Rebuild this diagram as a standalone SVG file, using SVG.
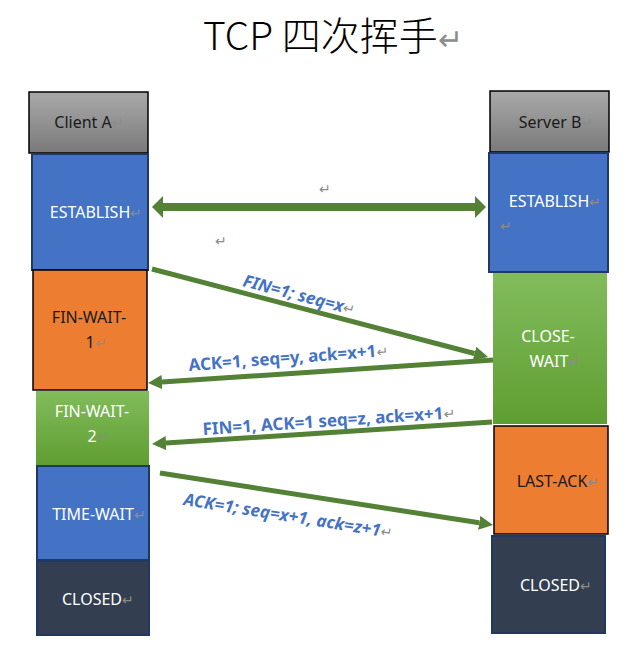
<svg xmlns="http://www.w3.org/2000/svg" width="643" height="664" viewBox="0 0 643 664">
<style>
text{font-family:"Noto Sans","Noto Sans CJK SC",sans-serif}
.t{font-size:16px;text-anchor:middle}
.w{fill:#ffffff}
.k{fill:#1a1a1a}
.pm{fill:#8c8c8c;font-weight:normal;font-style:normal;font-size:14px}
.lbl{font-size:17px;font-weight:bold;fill:#4472c4}
.it{font-style:italic}
.blue{fill:#4472c4;stroke:#1f3864;stroke-width:2}
.orange{fill:#ed7d31;stroke:#000;stroke-width:1.5}
.dark{fill:#333f50;stroke:#1f3864;stroke-width:2}
.gray{fill:url(#gg);stroke:#000;stroke-width:1.5}
.green{fill:url(#gr)}
.arr{stroke:#538135;stroke-width:5;fill:none}
</style>
<defs>
<linearGradient id="gg" x1="0" y1="0" x2="0" y2="1"><stop offset="0" stop-color="#a9a9a9"/><stop offset="1" stop-color="#7a7a7a"/></linearGradient>
<linearGradient id="gr" x1="0" y1="0" x2="0" y2="1"><stop offset="0" stop-color="#82bc5c"/><stop offset="1" stop-color="#5f9e31"/></linearGradient>
<marker id="ah" markerUnits="userSpaceOnUse" markerWidth="14" markerHeight="14" refX="0" refY="7" orient="auto-start-reverse" viewBox="0 0 14 14"><path d="M0,0 L14,7 L0,14 z" fill="#538135"/></marker>
<marker id="ahb" markerUnits="userSpaceOnUse" markerWidth="11" markerHeight="22" refX="0" refY="11" orient="auto-start-reverse" viewBox="0 0 11 22"><path d="M0,0 L11,11 L0,22 z" fill="#538135"/></marker>
</defs>

<text x="203" y="50" font-size="39" style="font-family:'Noto Sans CJK SC',sans-serif;font-weight:300" fill="#000">TCP 四次挥手<tspan fill="#8c8c8c" font-size="30">↵</tspan></text>

<g id="client-a"><rect class="gray" x="29" y="92" width="119" height="61"/><text class="t k" x="89" y="128">Client A<tspan class="pm">↵</tspan></text></g>
<g id="establish-a"><rect class="blue" x="32" y="154" width="116" height="116"/><text class="t w" x="96" y="218">ESTABLISH<tspan class="pm">↵</tspan></text></g>
<g id="fin-wait-1"><rect class="orange" x="33" y="270" width="114" height="120"/><text class="t k" x="89" y="323">FIN-WAIT-</text><text class="t k" x="96" y="348">1<tspan class="pm">↵</tspan></text></g>
<g id="fin-wait-2"><rect class="green" x="36" y="391" width="113" height="74"/><text class="t w" x="92" y="417">FIN-WAIT-</text><text class="t w" x="98" y="442">2<tspan class="pm">↵</tspan></text></g>
<g id="time-wait"><rect class="blue" x="37" y="466" width="112" height="94"/><text class="t w" x="99" y="520">TIME-WAIT<tspan class="pm">↵</tspan></text></g>
<g id="closed-a"><rect class="dark" x="37" y="561" width="112" height="74"/><text class="t w" x="98" y="605">CLOSED<tspan class="pm">↵</tspan></text></g>

<g id="server-b"><rect class="gray" x="490" y="91" width="119" height="61"/><text class="t k" x="556" y="128">Server B<tspan class="pm">↵</tspan></text></g>
<g id="establish-b"><rect class="blue" x="489" y="153" width="119" height="119"/><text class="t w" x="555" y="207">ESTABLISH<tspan class="pm">↵</tspan></text><text class="pm" x="500" y="231">↵</text></g>
<g id="close-wait"><rect class="green" x="493" y="273" width="114" height="151"/><text class="t w" x="548" y="342">CLOSE-</text><text class="t w" x="555" y="367">WAIT<tspan class="pm">↵</tspan></text></g>
<g id="last-ack"><rect class="orange" x="494" y="426" width="114" height="108"/><text class="t k" x="558" y="487">LAST-ACK<tspan class="pm">↵</tspan></text></g>
<g id="closed-b"><rect class="dark" x="492" y="536" width="113" height="97"/><text class="t w" x="556" y="591">CLOSED<tspan class="pm">↵</tspan></text></g>

<g id="connectors">
<line x1="163" y1="207" x2="475" y2="207" stroke="#538135" stroke-width="8" marker-start="url(#ahb)" marker-end="url(#ahb)"/>
<line class="arr" x1="152" y1="269" x2="474.5" y2="353.5" marker-end="url(#ah)"/>
<line class="arr" x1="493" y1="360" x2="162" y2="382.1" marker-end="url(#ah)"/>
<line class="arr" x1="492" y1="422" x2="166" y2="443.1" marker-end="url(#ah)"/>
<line class="arr" x1="160" y1="473" x2="479.2" y2="522.8" marker-end="url(#ah)"/>
<text class="pm" x="319" y="194">↵</text>
<text class="pm" x="215" y="246">↵</text>
<text class="lbl it" transform="translate(242,286) rotate(14.7)">FIN=1; seq=x<tspan class="pm">↵</tspan></text>
<text class="lbl" transform="translate(189,371) rotate(-4.3)">ACK=1, seq=y, ack=x+1<tspan class="pm">↵</tspan></text>
<text class="lbl" transform="translate(203,435) rotate(-3.8)">FIN=1, ACK=1 seq=z, ack=x+1<tspan class="pm">↵</tspan></text>
<text class="lbl it" transform="translate(183,505) rotate(9)">ACK=1; seq=x+1, ack=z+1<tspan class="pm">↵</tspan></text>
</g>
</svg>
